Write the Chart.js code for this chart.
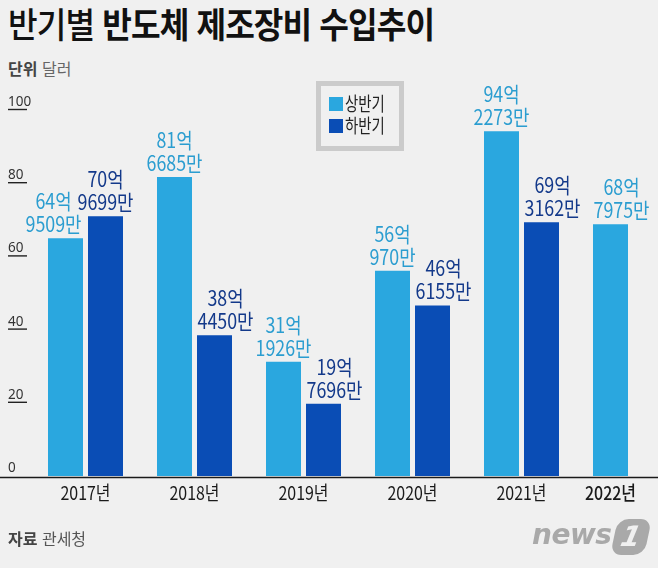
<!DOCTYPE html>
<html lang="ko">
<head>
<meta charset="utf-8">
<script src="https://cdn.jsdelivr.net/npm/chart.js@4.4.1/dist/chart.umd.min.js"></script>
<style>
  html, body { margin: 0; padding: 0; background: #f0f0f0; }
  body { width: 658px; height: 568px; overflow: hidden; position: relative; font-family: "Noto Sans CJK KR", "Noto Sans", sans-serif; }
  #wrap { position: absolute; left: 0; top: 0; width: 700px; height: 568px; }
  .title { position: absolute; left: 8px; top: 2px; font-size: 35px; line-height: 42px; color: #111; letter-spacing: -1px; white-space: nowrap; transform: scaleX(0.92); transform-origin: left top; }
  .title .lt { font-weight: 500; }
  .title .bd { font-weight: 700; }
  .unit { position: absolute; left: 8px; top: 56px; font-size: 16px; color: #666; white-space: nowrap; }
  .unit b, .src b { color: #444; font-weight: 700; }
  .src { position: absolute; left: 8px; top: 526px; font-size: 16px; color: #555; white-space: nowrap; }
  .logo { position: absolute; left: 530px; top: 518px; height: 38px; }
  .logo .nw { position: absolute; left: 2px; top: 0px; font-family: "DejaVu Sans", sans-serif; font-size: 28px; font-weight: 700; font-style: italic; color: #a9a9a9; letter-spacing: -0.5px; }
  .logo .one { position: absolute; left: 84px; top: 1px; width: 34px; height: 36px; background: #a9a9a9; border-radius: 11px; transform: skewX(-12deg); color: #f0f0f0; font: italic 700 28px "DejaVu Sans", sans-serif; text-align: center; line-height: 36px; }
</style>
</head>
<body>
<div class="title"><span class="lt">반기별</span> <span class="bd">반도체 제조장비 수입추이</span></div>
<div class="unit"><b>단위</b> 달러</div>
<div id="wrap"><canvas id="chart" width="700" height="568"></canvas></div>
<div class="src"><b>자료</b> 관세청</div>
<div class="logo"><span class="nw">news</span><div class="one">1</div></div>

<script>
// 단위: 억 달러 (억 + 만/10000)
const years = ['2017년', '2018년', '2019년', '2020년', '2021년', '2022년'];
const firstHalf = [64.9509, 81.6685, 31.1926, 56.0970, 94.2273, 68.7975];
const secondHalf = [70.9699, 38.4450, 19.7696, 46.6155, 69.3162, null];
const yTicks = [0, 20, 40, 60, 80, 100];
const seriesNames = ['상반기', '하반기'];

const barColors = ['#2aa7df', '#0a4db5'];
const labelColors = ['#2b9dd0', '#13398a'];
// small horizontal nudges so neighbouring labels don't collide
const labelShift = [[-12, 0, 0, 0, 0, 11], [0, 11, 11, 11, 11, 0]];

function fmtKr(v) {
    const eok = Math.floor(v);
    const man = Math.round((v - eok) * 10000);
    return [eok + '억', man + '만'];
}

function squeezeText(ctx, text, x, y, sx) {
    ctx.save();
    ctx.translate(x, y);
    ctx.scale(sx, 1);
    ctx.fillText(text, 0, 0);
    ctx.restore();
}

const decorPlugin = {
    id: 'decor',
    afterDatasetsDraw(chart) {
        const ctx = chart.ctx;
        const y = chart.scales.y;

        // y tick labels with short underline
        ctx.save();
        ctx.fillStyle = '#333';
        ctx.strokeStyle = '#222';
        ctx.font = '15px "Noto Sans", sans-serif';
        ctx.textAlign = 'left';
        ctx.textBaseline = 'alphabetic';
        yTicks.forEach(t => {
            const py = y.getPixelForValue(t);
            squeezeText(ctx, String(t), 8, py - 4, 0.9);
            if (t !== 0) {
                ctx.lineWidth = 1.4;
                ctx.beginPath();
                ctx.moveTo(8, py - 0.5);
                ctx.lineTo(27, py - 0.5);
                ctx.stroke();
            }
        });

        // baseline across the full width
        const by = y.getPixelForValue(0) + 1.5;
        ctx.lineWidth = 1.6;
        ctx.strokeStyle = '#1a1a1a';
        ctx.beginPath();
        ctx.moveTo(0, by);
        ctx.lineTo(658, by);
        ctx.stroke();

        // value labels
        ctx.textAlign = 'center';
        ctx.textBaseline = 'middle';
        ctx.font = '400 21px "Noto Sans CJK KR", sans-serif';
        chart.data.datasets.forEach((ds, di) => {
            const meta = chart.getDatasetMeta(di);
            ds.data.forEach((v, i) => {
                if (v == null) return;
                const bar = meta.data[i];
                const lines = fmtKr(v);
                const lx = bar.x + labelShift[di][i];
                ctx.fillStyle = labelColors[di];
                squeezeText(ctx, lines[0], lx, bar.y - 37, 0.85);
                squeezeText(ctx, lines[1], lx, bar.y - 14, 0.85);
            });
        });

        // category labels (centred under the bars that exist)
        ctx.fillStyle = '#1a1a1a';
        const m0 = chart.getDatasetMeta(0);
        years.forEach((yr, i) => {
            const cx = secondHalf[i] == null ? m0.data[i].x : chart.scales.x.getPixelForValue(i);
            ctx.font = (i === years.length - 1 ? '500' : '400') + ' 19px "Noto Sans CJK KR", sans-serif';
            squeezeText(ctx, yr, cx, 493, 0.84);
        });

        // legend box
        ctx.strokeStyle = '#cbcbcb';
        ctx.lineWidth = 5;
        ctx.strokeRect(318.5, 83.5, 83, 65);
        ctx.font = '400 19px "Noto Sans CJK KR", sans-serif';
        ctx.textAlign = 'left';
        seriesNames.forEach((name, i) => {
            const ty = 97 + i * 22;
            ctx.fillStyle = barColors[i];
            ctx.fillRect(329, ty, 14, 14);
            ctx.fillStyle = '#222';
            squeezeText(ctx, name, 345, ty + 7, 0.76);
        });
        ctx.restore();
    }
};

const ctx = document.getElementById('chart').getContext('2d');
new Chart(ctx, {
    type: 'bar',
    data: {
        labels: years,
        datasets: [
            { label: seriesNames[0], data: firstHalf, backgroundColor: barColors[0] },
            { label: seriesNames[1], data: secondHalf, backgroundColor: barColors[1] }
        ]
    },
    options: {
        responsive: false,
        animation: false,
        layout: { padding: { left: 31, right: 15, top: 110, bottom: 92 } },
        datasets: { bar: { categoryPercentage: 0.734, barPercentage: 0.875 } },
        plugins: { legend: { display: false }, tooltip: { enabled: false } },
        scales: {
            x: { display: false },
            y: { display: false, min: 0, max: 100 }
        }
    },
    plugins: [decorPlugin]
});
</script>
</body>
</html>
